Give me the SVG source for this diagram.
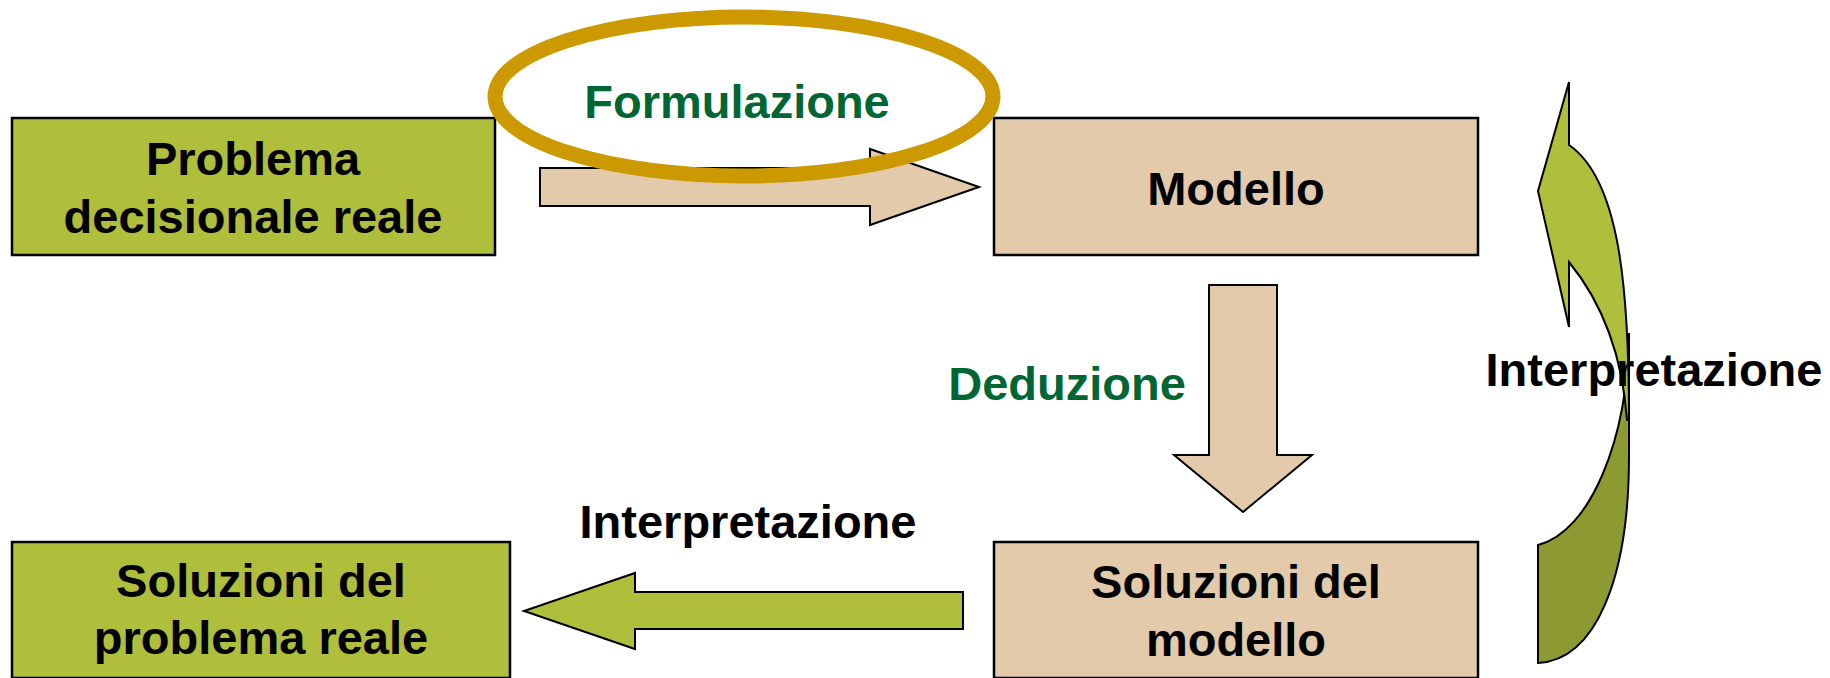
<svg xmlns="http://www.w3.org/2000/svg" width="1830" height="678" viewBox="0 0 1830 678">
  <style>
    .box { stroke: #000; stroke-width: 2.5; }
    .green { fill: #AFBE3B; }
    .tan { fill: #E2CAAA; }
    .dark { fill: #8D9A31; }
    .arrow { stroke: #000; stroke-width: 2; stroke-linejoin: miter; }
    text { font-family: "Liberation Sans", Arial, sans-serif; font-weight: bold; font-size: 47px; text-anchor: middle; }
    .lbl { fill: #000; }
    .step { fill: #006633; }
  </style>
  <rect width="1830" height="678" fill="#fff"/>

  <!-- process boxes -->
  <g id="node-problema">
    <rect class="box green" x="12" y="118" width="483" height="137"/>
    <text class="lbl" x="253" y="175">Problema</text>
    <text class="lbl" x="253" y="233">decisionale reale</text>
  </g>
  <g id="node-modello">
    <rect class="box tan" x="994" y="118" width="484" height="137"/>
    <text class="lbl" x="1236" y="205">Modello</text>
  </g>
  <g id="node-soluzioni-modello">
    <rect class="box tan" x="994" y="542" width="484" height="136"/>
    <text class="lbl" x="1236" y="598">Soluzioni del</text>
    <text class="lbl" x="1236" y="656">modello</text>
  </g>
  <g id="node-soluzioni-reale">
    <rect class="box green" x="12" y="542" width="498" height="136"/>
    <text class="lbl" x="261" y="597">Soluzioni del</text>
    <text class="lbl" x="261" y="654">problema reale</text>
  </g>

  <!-- block arrows between the steps -->
  <g id="connectors">
    <polygon class="arrow tan" points="540,168 870,168 870,149 979,187 870,225 870,206 540,206"/>
    <polygon class="arrow tan" points="1209,285 1277,285 1277,455 1312,455 1243,512 1174,455 1209,455"/>
    <polygon class="arrow green" points="963,592 635,592 635,573 524,611 635,649 635,629 963,629"/>
    <!-- curved return arrow: back face, then front face -->
    <path class="arrow dark" d="M1538,545 L1538,663 C1595,660 1629,580 1629,456 L1629,333 C1628,440 1590,532 1538,545 Z"/>
    <path class="arrow green" d="M1569,82 L1538,191 L1569,327 L1569,262 C1600,300 1622,350 1627,420 L1629,420 C1629,290 1620,180 1569,145 Z"/>
  </g>

  <!-- step labels -->
  <g id="labels">
    <text class="step" x="737" y="118">Formulazione</text>
    <text class="step" x="1067" y="400">Deduzione</text>
    <text class="lbl" x="1654" y="386">Interpretazione</text>
    <text class="lbl" x="748" y="538">Interpretazione</text>
  </g>

  <!-- highlight ring around the formulation step -->
  <g id="highlight">
    <ellipse cx="744" cy="96.5" rx="249" ry="79.5" fill="none" stroke="#CC9900" stroke-width="15"/>
  </g>
</svg>
